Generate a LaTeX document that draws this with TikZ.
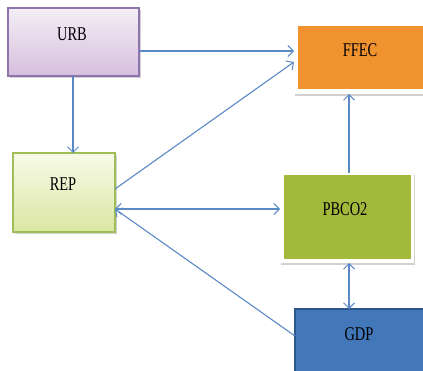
\documentclass[tikz,border=0pt]{standalone}
\usepackage{fontspec}
\setmainfont{Liberation Serif}
\usetikzlibrary{arrows.meta,shadows}
\definecolor{urbtop}{HTML}{F4EEF6}
\definecolor{urbbot}{HTML}{D6BFDE}
\definecolor{urbline}{HTML}{8F73AD}
\definecolor{reptop}{HTML}{F8FAE8}
\definecolor{repbot}{HTML}{DAE6A2}
\definecolor{repline}{HTML}{A0BE58}
\definecolor{ffecfill}{HTML}{F0922E}
\definecolor{pbcofill}{HTML}{A2B93B}
\definecolor{gdpfill}{HTML}{4277B9}
\definecolor{gdpline}{HTML}{2C568E}
\definecolor{link}{HTML}{5A89C6}
\newcommand{\boxlabel}[1]{\scalebox{0.74}[1]{\fontsize{19.5}{21}\selectfont #1}}
\tikzset{
  every node/.style={inner sep=0pt, outer sep=0pt},
  boxtext/.style={text=black},
  gradbox/.style={anchor=north west, line width=1.3pt,
    drop shadow={shadow xshift=1.5pt, shadow yshift=-2pt, opacity=0.3, fill=black!60}},
  framebox/.style={anchor=north west, fill=white,
    drop shadow={shadow xshift=0.5pt, shadow yshift=-2pt, opacity=0.3, fill=black!60}},
  tip/.tip={Straight Barb[length=5.5pt,width=11pt,line width=1pt]},
  link/.style={draw=link, line width=1.1pt, -tip},
  linkboth/.style={link, tip-tip}
}
\begin{document}
\begin{tikzpicture}[x=1pt,y=-1pt]
\useasboundingbox (0,0) rectangle (423,371);

% URB
\node[gradbox, draw=urbline, top color=urbtop, bottom color=urbbot,
  minimum width=131, minimum height=68] (urb) at (8,8) {};
\node[boxtext] (urbt) at (72,34) {\boxlabel{URB}};

% REP
\node[gradbox, draw=repline, top color=reptop, bottom color=repbot,
  minimum width=102, minimum height=79] (rep) at (13,153) {};
\node[boxtext] (rept) at (63,184) {\boxlabel{REP}};

% FFEC
\node[framebox, minimum width=140, minimum height=70] (ffec) at (294,24) {};
\node[anchor=north west, fill=ffecfill, minimum width=140, minimum height=63] (ffecin) at (298,26) {};
\node[boxtext] (ffect) at (360,50) {\boxlabel{FFEC}};

% PBCO2
\node[framebox, minimum width=134, minimum height=90] (pbco) at (280,173) {};
\node[anchor=north west, fill=pbcofill, minimum width=127, minimum height=84] (pbcoin) at (284,175) {};
\node[boxtext] (pbcot) at (345,209) {\boxlabel{PBCO2}};

% GDP
\node[anchor=north west, fill=gdpfill, draw=gdpline, line width=1.5pt,
  minimum width=140, minimum height=80] (gdp) at (295,309) {};
\node[boxtext] (gdpt) at (359,334) {\boxlabel{GDP}};

% connectors
\draw[link] (urb.south -| 73,0) -- (rep.north -| 73,0);
\draw[link] (urb.east) ++(0,9) coordinate (urbout) -- (ffec.west |- urbout);
\draw[link] (rep.east) ++(0,-3.5) coordinate (repout) -- (294,62);
\draw[link] (pbco.north -| 349,0) -- (ffec.south -| 349,0);
\draw[linkboth] (rep.east) ++(0,16.5) coordinate (repin) -- (pbco.west |- repin);
\draw[linkboth] (pbco.south -| 349,0) -- (gdp.north -| 349,0);
\draw[link] (gdp.west) ++(0,-13) coordinate (gdpout) -- (repin);
\end{tikzpicture}
\end{document}
